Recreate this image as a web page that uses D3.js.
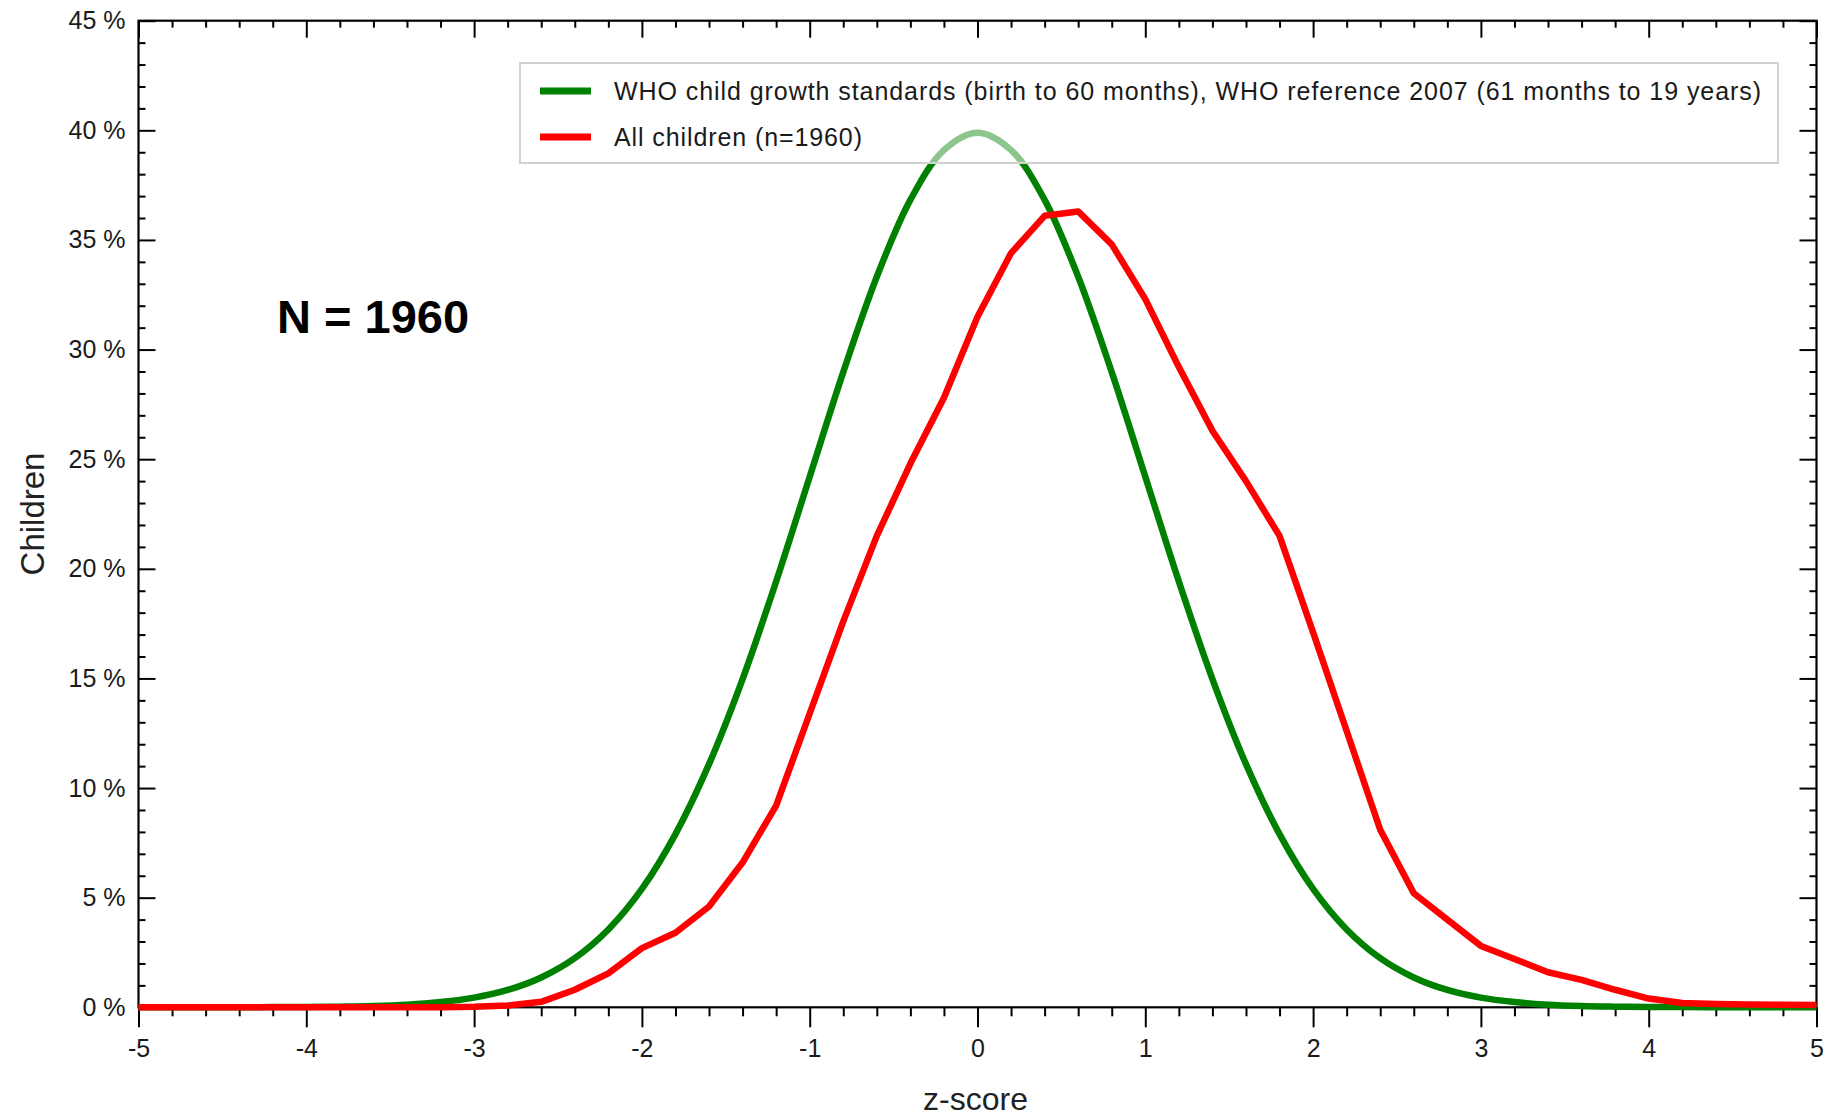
<!DOCTYPE html>
<html><head><meta charset="utf-8">
<script src="https://cdn.jsdelivr.net/npm/d3@7"></script>
<style>
html,body{margin:0;padding:0;background:#fff;}
svg{display:block;font-family:"Liberation Sans",Arial,sans-serif;}
</style></head>
<body>
<svg id="chart" width="1834" height="1117"></svg>
<script>
// ---- data ----
const zGrid = [-5.0,-4.8,-4.6,-4.4,-4.2,-4.0,-3.8,-3.6,-3.4,-3.2,-3.0,-2.8,-2.6,-2.4,-2.2,-2.0,-1.8,-1.6,-1.4,-1.2,-1.0,-0.8,-0.6,-0.4,-0.2,0.0,0.2,0.4,0.6,0.8,1.0,1.2,1.4,1.6,1.8,2.0,2.2,2.4,2.6,2.8,3.0,3.2,3.4,3.6,3.8,4.0,4.2,4.4,4.6,4.8,5.0];
const whoPct = [0,0,0,0,0.01,0.01,0.03,0.06,0.12,0.24,0.44,0.79,1.36,2.24,3.55,5.40,7.90,11.09,14.97,19.42,24.20,28.97,33.32,36.83,39.10,39.89,39.10,36.83,33.32,28.97,24.20,19.42,14.97,11.09,7.90,5.40,3.55,2.24,1.36,0.79,0.44,0.24,0.12,0.06,0.03,0.01,0.01,0,0,0,0];
const allPct = [0,0,0,0,0,0,0,0,0,0,0.02,0.08,0.25,0.8,1.55,2.7,3.4,4.6,6.6,9.2,13.4,17.6,21.5,24.8,27.8,31.5,34.4,36.1,36.3,34.8,32.3,29.2,26.3,24.0,21.5,17.1,12.6,8.1,5.2,4.0,2.8,2.2,1.6,1.25,0.8,0.4,0.2,0.15,0.13,0.12,0.1];
const xMajorTicks = [-5,-4,-3,-2,-1,0,1,2,3,4,5];
const yMajorTicks = [0,5,10,15,20,25,30,35,40,45];
const seriesNames = ["WHO child growth standards (birth to 60 months), WHO reference 2007 (61 months to 19 years)", "All children (n=1960)"];
const seriesColors = ["#008000", "#ff0000"];
const xTitle = "z-score";
const yTitle = "Children";
const annotation = "N = 1960";

// ---- layout ----
const svg = d3.select("#chart");
const L = 138.5, R = 1816.5, T = 20.7, B = 1007.3;
const x = d3.scaleLinear().domain([-5,5]).range([L,R]);
const y = d3.scaleLinear().domain([0,45]).range([B,T]);

const xMinor = d3.range(-50,51,2).map(d=>d/10).filter(d=>Math.abs(d-Math.round(d))>1e-9);
const yMinor = d3.range(0,46).filter(d=>d%5!==0);

function styleAxis(g){
  g.select(".domain").remove();
  g.selectAll(".tick line").attr("stroke","#000").attr("stroke-width",2);
  g.selectAll(".tick text").attr("fill","#1a1a1a").style("font-size","25px").style("font-family",'"Liberation Sans",Arial,sans-serif');
}

// bottom
svg.append("g").attr("transform",`translate(0,${B})`)
  .call(d3.axisBottom(x).tickValues(xMinor).tickSize(9).tickFormat("")).call(styleAxis);
svg.append("g").attr("transform",`translate(0,${B})`)
  .call(d3.axisBottom(x).tickValues(xMajorTicks).tickSize(20).tickPadding(12).tickFormat(d=>String(d))).call(styleAxis);
// top
svg.append("g").attr("transform",`translate(0,${T})`)
  .call(d3.axisTop(x).tickValues(xMinor).tickSize(-7).tickFormat("")).call(styleAxis);
svg.append("g").attr("transform",`translate(0,${T})`)
  .call(d3.axisTop(x).tickValues(xMajorTicks).tickSize(-17).tickFormat("")).call(styleAxis);
// left
svg.append("g").attr("transform",`translate(${L},0)`)
  .call(d3.axisLeft(y).tickValues(yMinor).tickSize(-7).tickFormat("")).call(styleAxis);
svg.append("g").attr("transform",`translate(${L},0)`)
  .call(d3.axisLeft(y).tickValues(yMajorTicks).tickSize(-17).tickPadding(13).tickFormat(d=>d+" %")).call(styleAxis);
// right
svg.append("g").attr("transform",`translate(${R},0)`)
  .call(d3.axisRight(y).tickValues(yMinor).tickSize(-7).tickFormat("")).call(styleAxis);
svg.append("g").attr("transform",`translate(${R},0)`)
  .call(d3.axisRight(y).tickValues(yMajorTicks).tickSize(-17).tickFormat("")).call(styleAxis);

// frame
svg.append("rect").attr("x",L).attr("y",T).attr("width",R-L).attr("height",B-T)
  .attr("fill","none").attr("stroke","#000").attr("stroke-width",2.2);

// lines
const whoData = zGrid.map((z,i)=>({z, v:whoPct[i]}));
const allData = zGrid.map((z,i)=>({z, v:allPct[i]}));
svg.append("path").datum(whoData)
  .attr("d", d3.line().x(d=>x(d.z)).y(d=>y(d.v)).curve(d3.curveCatmullRom))
  .attr("fill","none").attr("stroke",seriesColors[0]).attr("stroke-width",6.5).attr("stroke-linejoin","round");
svg.append("path").datum(allData)
  .attr("d", d3.line().x(d=>x(d.z)).y(d=>y(d.v)))
  .attr("fill","none").attr("stroke",seriesColors[1]).attr("stroke-width",6.5).attr("stroke-linejoin","round");

// legend
const lg = svg.append("g");
lg.append("rect").attr("x",520).attr("y",63).attr("width",1258).attr("height",100)
  .attr("fill","#fff").attr("fill-opacity",0.55).attr("stroke","#d2d2d2").attr("stroke-width",2);
const legY = [91,137];
const legLen = [1147, 248];
seriesNames.forEach((name,i)=>{
  lg.append("line").attr("x1",540).attr("x2",591).attr("y1",legY[i]).attr("y2",legY[i])
    .attr("stroke",seriesColors[i]).attr("stroke-width",7);
  lg.append("text").attr("x",614).attr("y",legY[i]).attr("dy","0.35em")
    .attr("textLength",legLen[i]).attr("lengthAdjust","spacing")
    .style("font-size","25px").attr("fill","#1a1a1a").text(name);
});

// annotation
svg.append("text").attr("x",277).attr("y",333).style("font-size","47px").style("font-weight","bold")
  .attr("fill","#000").text(annotation);

// axis titles
svg.append("text").attr("x",(L+R)/2-2).attr("y",1110).attr("text-anchor","middle")
  .style("font-size","32px").attr("fill","#222").text(xTitle);
svg.append("text").attr("transform","translate(44,514) rotate(-90)").attr("text-anchor","middle")
  .style("font-size","33px").attr("fill","#222").text(yTitle);
</script>
</body></html>
